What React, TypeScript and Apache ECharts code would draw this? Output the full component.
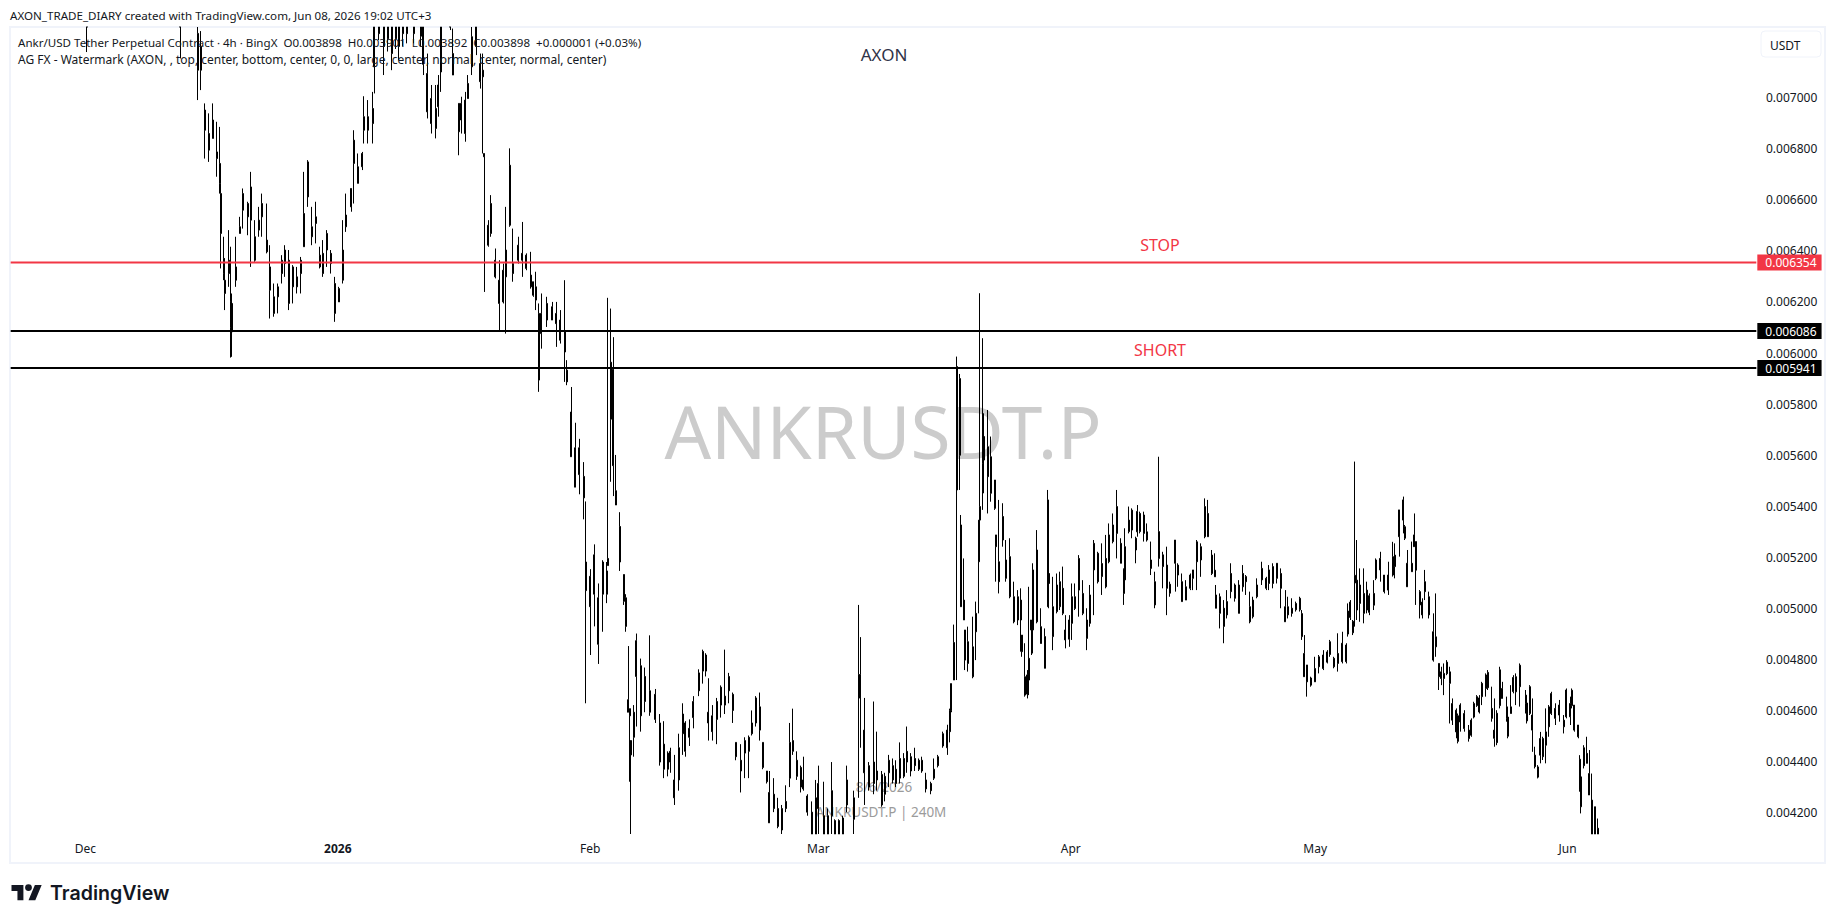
import React, { useEffect, useRef } from "react";
import * as echarts from "echarts";

// Prices in millionths of USDT; rows: [4h slot, open, high, low, close]
const barsDec = [[56,7300,7400,7178,7350],[125,7300,7400,7153,7350],[138,7107,7400,6990,7251],[140,7107,7260,7029,7200],[143,6872,6977,6761,6951],[146,6794,6938,6748,6859],[149,6840,6977,6840,6912],[152,6761,6905,6690,6787],[154,6664,6885,6624,6742],[155,6468,6664,6331,6624],[157,6311,6455,6285,6370],[158,6233,6370,6168,6285],[161,6311,6481,6259,6363],[162,6100,6416,5982,6200],[163,6083,6233,5985,6194],[166,6285,6455,6259,6337],[169,6468,6533,6468,6494],[171,6559,6644,6487,6624],[175,6533,6592,6461,6585],[177,6520,6709,6337,6650],[180,6363,6520,6357,6455],[183,6481,6572,6455,6520],[185,6533,6624,6455,6585],[189,6396,6585,6390,6442],[191,6246,6422,6135,6337],[194,6155,6272,6142,6220],[197,6220,6272,6155,6259],[200,6311,6383,6272,6363],[202,6350,6422,6298,6403],[205,6194,6403,6168,6363],[208,6259,6344,6194,6337],[211,6259,6337,6233,6298],[214,6311,6376,6233,6363],[216,6416,6709,6416,6546],[219,6611,6755,6572,6748],[222,6455,6572,6422,6494],[225,6507,6592,6429,6533],[228,6337,6416,6331,6383],[230,6311,6442,6298,6390],[233,6403,6481,6337,6468],[236,6350,6403,6311,6390],[239,6155,6298,6122,6272]];
const barsJan = [[242,6200,6259,6200,6252],[245,6285,6520,6272,6403],[247,6494,6624,6474,6540],[251,6572,6644,6553,6644],[253,6742,6872,6585,6833],[256,6664,6781,6664,6729],[259,6729,6787,6716,6781],[260,6872,7005,6820,6925],[263,6872,6990,6820,6925],[267,6898,7022,6820,6957],[268,7120,7400,7016,7277],[271,7250,7400,7225,7300],[275,7200,7400,7088,7300],[278,7230,7400,7180,7300],[281,7172,7400,7107,7277],[284,7230,7400,7190,7300],[286,7200,7400,7146,7300],[289,7250,7400,7200,7320],[292,7250,7400,7212,7320],[297,7250,7400,7212,7320],[302,7240,7400,7199,7320],[304,7130,7400,7088,7277],[307,6944,7172,6918,7094],[310,6898,7049,6859,6996],[313,6879,7049,6840,6957],[315,6964,7088,6925,7049],[317,7100,7400,7022,7277],[324,7300,7400,7264,7350],[326,7088,7270,7088,7172],[330,6866,6977,6774,6977],[332,6912,7003,6859,6977],[335,6859,7022,6827,6990],[337,6996,7088,6996,7055],[340,7120,7400,7088,7238],[343,7200,7400,7166,7277],[346,7062,7172,7035,7133],[348,7081,7172,6781,7107],[349,6768,6781,6239,6781],[352,6422,6520,6416,6500],[354,6468,6618,6455,6585],[357,6298,6409,6292,6363],[360,6194,6363,6089,6285],[363,6200,6350,6194,6324],[365,6298,6572,6076,6403],[368,6500,6801,6494,6735],[370,6311,6487,6279,6350],[374,6363,6455,6350,6422],[377,6363,6513,6298,6390],[380,6331,6390,6324,6383],[383,6259,6396,6252,6305],[385,6226,6279,6220,6279],[387,6207,6318,6168,6259],[389,5894,6194,5848,6155],[391,6076,6233,6017,6155],[395,6129,6220,6102,6194],[399,6129,6200,6129,6181],[402,6115,6200,6024,6155],[405,6050,6168,6037,6129],[408,6004,6285,5887,6083],[410,5887,5972,5874,5933],[413,5594,5867,5594,5769],[416,5475,5727,5475,5629],[419,5524,5664,5447,5629],[422,5433,5573,5349,5517],[424,5070,5419,4629,5182]];
const barsFeb = [[427,5007,5154,4818,5126],[430,5056,5251,4930,5210],[433,4860,5098,4783,5042],[436,5056,5189,4909,5182],[439,5056,5182,5021,5147],[440,5168,6216,5168,5196],[442,5741,6174,5496,5964],[444,5559,6062,5440,5936],[446,5405,5601,5405,5461],[449,5182,5377,5147,5321],[452,5028,5133,5014,5133],[453,4930,5056,4909,5042],[455,4594,4853,4594,4643],[456,4580,4608,4322,4608],[457,4427,4469,4100,4483],[459,4496,4622,4420,4594],[461,4734,4902,4538,4874],[464,4580,4804,4518,4776],[467,4636,4769,4594,4734],[471,4594,4895,4580,4678],[475,4566,4685,4552,4664],[478,4399,4587,4385,4552],[481,4371,4559,4336,4469],[484,4371,4441,4343,4434],[486,4399,4455,4357,4441],[489,4259,4427,4231,4329],[492,4329,4510,4287,4455],[495,4510,4629,4427,4587],[497,4441,4559,4420,4552],[500,4496,4566,4462,4531],[503,4573,4657,4531,4636],[507,4678,4762,4657,4748],[510,4755,4839,4706,4832],[512,4755,4825,4734,4818],[514,4552,4727,4483,4594],[517,4518,4622,4483,4580],[520,4566,4650,4469,4636],[523,4622,4699,4573,4692],[526,4622,4839,4587,4657],[529,4678,4748,4629,4734],[532,4601,4671,4552,4664],[534,4420,4476,4406,4476],[538,4364,4469,4280,4406],[541,4434,4496,4336,4483],[544,4441,4503,4336,4496],[546,4510,4601,4503,4552],[549,4552,4657,4538,4650],[552,4524,4671,4483,4615],[554,4378,4476,4371,4476],[557,4322,4364,4315,4364],[559,4161,4364,4161,4280],[562,4217,4336,4203,4273],[565,4147,4259,4140,4217],[568,4133,4231,4100,4217],[571,4217,4308,4203,4245],[574,4336,4552,4301,4476],[576,4441,4608,4427,4483],[579,4343,4441,4329,4406],[582,4301,4385,4280,4378],[584,4294,4420,4287,4329],[587,4203,4273,4189,4266],[590,4116,4245,4100,4203],[593,4116,4329,4100,4259]];
const barsMar = [[595,4217,4385,4100,4315],[599,4116,4322,4100,4189],[602,4116,4217,4100,4189],[605,4189,4399,4100,4287],[607,4116,4175,4100,4170],[610,4116,4175,4100,4170],[613,4116,4189,4100,4180],[616,4231,4385,4203,4329],[621,4175,4287,4100,4259],[625,4650,5014,4259,4741],[626,4650,4888,4455,4741],[629,4357,4650,4231,4524],[632,4301,4399,4287,4385],[636,4315,4636,4273,4399],[638,4329,4518,4287,4364],[642,4231,4364,4224,4350],[644,4273,4357,4245,4343],[647,4357,4427,4301,4406],[650,4329,4413,4315,4385],[652,4315,4406,4301,4371],[655,4336,4476,4315,4413],[658,4343,4434,4336,4413],[660,4399,4538,4357,4441],[663,4364,4434,4343,4420],[666,4385,4455,4364,4413],[669,4371,4413,4364,4406],[671,4364,4420,4357,4406],[674,4294,4357,4280,4329],[678,4287,4322,4273,4315],[680,4336,4413,4329,4371],[683,4385,4427,4378,4420],[687,4462,4518,4455,4510],[690,4455,4545,4427,4524],[692,4518,4608,4476,4601],[693,4601,4706,4594,4706],[695,4720,4937,4720,4867],[697,5464,5986,4720,5947],[699,5600,5918,5464,5900],[700,5007,5366,5007,5327],[702,4955,5196,4955,5033],[703,4798,4916,4759,4916],[705,4785,4929,4753,4870],[709,4733,4968,4727,4850],[711,4909,5027,4798,4981],[713,5183,5346,4981,5346],[714,5346,6234,5346,5399],[716,5568,6058,5386,5679],[717,5581,5764,5451,5673],[720,5516,5777,5372,5633],[722,5451,5673,5418,5594],[725,5392,5503,5386,5503],[726,5242,5288,5105,5288],[728,5105,5425,5059,5183],[731,5268,5412,5242,5360],[733,5118,5268,5105,5190],[736,5046,5275,5040,5203],[739,4948,5105,4942,5046],[742,4955,5072,4935,5046],[744,4955,5079,4831,5033],[745,4831,4896,4811,4896],[747,4661,4864,4655,4733],[749,4665,4759,4648,4740],[750,4720,5085,4661,4805],[752,4916,4955,4818,4955],[753,4916,5177,4824,5151],[756,4948,5307,4942,5229],[759,4863,5001,4863,4929],[762,4766,4922,4766,4890],[764,5007,5464,5007,5425],[765,5098,5137,5001,5137],[768,4890,5124,4837,5007],[771,4988,5137,4981,5092],[773,5007,5144,4994,5105],[775,4981,5164,4974,5079],[777,4877,4974,4844,4916],[780,4880,4974,4850,4955]];
const barsApr = [[782,4942,5098,4877,5046],[784,5000,5098,4994,5046],[787,5072,5209,4968,5196],[790,4981,5111,4974,5059],[793,4883,5001,4837,4955],[795,4942,5092,4929,5053],[798,5151,5268,4974,5255],[801,5105,5222,5098,5216],[804,5125,5255,5053,5176],[807,5085,5288,5079,5196],[809,5183,5333,5177,5288],[812,5262,5372,5255,5327],[815,5294,5464,5196,5399],[818,5177,5275,5177,5255],[820,5059,5157,5014,5151],[821,5112,5314,5105,5242],[824,5301,5399,5294,5346],[826,5307,5392,5275,5385],[829,5229,5281,5177,5275],[830,5300,5405,5281,5380],[832,5301,5379,5294,5372],[835,5294,5379,5262,5366],[837,5268,5333,5262,5300],[840,5157,5262,5131,5190],[843,5014,5144,5001,5105],[846,5196,5594,5164,5301],[849,5164,5222,5079,5210],[852,5079,5242,4974,5170],[854,5060,5105,5046,5095],[858,5177,5268,5066,5268],[860,5131,5177,5085,5170],[863,5027,5137,5027,5105],[866,5033,5111,5033,5085],[869,5079,5137,5072,5131],[871,5118,5151,5072,5151],[874,5183,5268,5072,5261],[877,5190,5255,5124,5242],[880,5281,5431,5275,5399],[882,5281,5425,5281,5372],[885,5137,5229,5131,5209],[887,5124,5216,5124,5150],[888,5001,5092,5001,5053],[891,4981,5059,4922,5046],[894,4930,5033,4864,5001],[896,4975,5072,4961,5027],[899,5066,5177,5040,5137],[902,5040,5098,5027,5092],[905,4981,5111,4981,5092],[908,5085,5170,5066,5137],[910,5105,5131,5053,5125],[913,4948,5066,4942,5007],[915,4968,5046,4961,5033],[918,5046,5118,5040,5092],[922,5112,5183,5092,5157],[925,5079,5124,5072,5118],[927,5098,5170,5072,5151],[930,5098,5177,5079,5164],[933,5118,5177,5098,5177],[936,5079,5157,5001,5137],[939,4948,5072,4948,5007],[941,4975,5046,4961,5007],[944,4981,5040,4968,5001],[947,4995,5027,4988,5020],[950,4995,5046,4988,5040],[951,4890,4994,4877,4980],[953,4733,4896,4733,4824],[955,4713,4779,4655,4779],[958,4700,4733,4694,4728]];
const barsMay = [[961,4713,4811,4713,4765],[964,4772,4818,4746,4811],[967,4765,4837,4759,4818],[970,4790,4837,4785,4830],[972,4820,4877,4811,4870],[975,4772,4811,4766,4805],[978,4785,4903,4753,4824],[981,4792,4909,4785,4864],[984,4792,4864,4785,4857],[985,4900,5020,4890,4990],[987,4965,5033,4955,5025],[989,4905,4955,4896,4950],[990,5100,5575,4929,5130],[992,4994,5268,4955,5111],[994,5020,5157,4948,5092],[997,4981,5157,4942,5059],[999,4994,5105,4981,5072],[1001,4985,5059,4974,5050],[1004,5013,5111,4994,5059],[1006,5118,5196,5111,5190],[1009,5151,5222,5105,5196],[1012,5066,5131,5059,5131],[1015,5072,5183,5053,5131],[1018,5131,5261,5125,5203],[1020,5164,5255,5118,5209],[1023,5281,5386,5203,5386],[1026,5346,5438,5294,5425],[1027,5275,5327,5268,5320],[1029,5085,5229,5085,5177],[1032,5144,5262,5144,5177],[1034,5242,5372,5242,5288],[1035,5150,5262,5014,5262],[1038,5014,5072,4961,5066],[1040,4975,5040,4961,5025],[1042,5066,5151,5033,5105],[1045,4975,5066,4961,5046],[1048,4798,4981,4792,4909],[1050,4850,5059,4811,4889],[1052,4733,4785,4681,4785],[1054,4726,4772,4700,4752],[1056,4726,4785,4661,4746],[1058,4745,4798,4739,4790],[1060,4707,4772,4550,4752],[1062,4563,4648,4544,4628],[1065,4517,4609,4492,4602],[1066,4480,4589,4472,4580],[1068,4556,4629,4518,4622],[1071,4530,4602,4518,4589],[1074,4491,4544,4479,4524],[1076,4504,4570,4498,4563],[1078,4575,4635,4570,4628],[1080,4620,4661,4615,4655],[1082,4595,4661,4589,4650],[1084,4655,4713,4622,4707],[1087,4687,4746,4655,4740],[1088,4690,4759,4681,4750],[1091,4570,4694,4557,4609],[1093,4492,4648,4459,4524],[1095,4475,4602,4465,4590],[1097,4620,4772,4609,4760],[1099,4648,4713,4648,4687],[1102,4570,4655,4557,4615],[1103,4500,4583,4492,4575],[1105,4589,4700,4589,4615],[1107,4675,4739,4668,4730],[1109,4674,4746,4622,4733],[1112,4694,4785,4616,4778],[1116,4628,4681,4589,4661],[1117,4560,4641,4550,4630],[1119,4589,4700,4583,4694],[1121,4524,4648,4439,4583],[1123,4381,4459,4374,4426],[1125,4340,4387,4335,4380],[1127,4426,4517,4394,4491],[1129,4420,4498,4407,4491],[1131,4465,4609,4394,4517],[1133,4537,4622,4498,4615],[1135,4589,4674,4583,4667],[1138,4570,4629,4544,4609],[1141,4583,4642,4557,4622],[1144,4537,4583,4511,4563],[1146,4576,4687,4570,4681]];
const barsJun = [[1149,4576,4655,4544,4628],[1150,4620,4687,4609,4680],[1152,4524,4622,4518,4622],[1155,4498,4544,4492,4544],[1156,4290,4426,4283,4410],[1157,4224,4400,4198,4341],[1159,4385,4465,4374,4455],[1161,4394,4498,4394,4433],[1163,4270,4446,4270,4354],[1165,4117,4354,4090,4250],[1167,4117,4224,4090,4224],[1169,4117,4178,4090,4140]];

const barGroups = [barsDec, barsJan, barsFeb, barsMar, barsApr, barsMay, barsJun];

const slotCount = 1287;
const dec1Slot = 55;
const axisMin = 0.0041174;
const axisMax = 0.007276;
const tickLabels: Record<string, string> = {
  "2025-12-01T00": "Dec",
  "2026-01-01T00": "{b|2026}",
  "2026-02-01T00": "Feb",
  "2026-03-01T00": "Mar",
  "2026-04-01T00": "Apr",
  "2026-05-01T00": "May",
  "2026-06-01T00": "Jun",
};
const priceTicks = [0.0042, 0.0044, 0.0046, 0.0048, 0.005, 0.0052, 0.0054, 0.0056, 0.0058, 0.006, 0.0062, 0.0064, 0.0066, 0.0068, 0.007];
const levels = [
  { value: 0.006354, text: "0.006354", color: "#f23645" },
  { value: 0.006086, text: "0.006086", color: "#000000" },
  { value: 0.005941, text: "0.005941", color: "#000000" },
];

const categories: string[] = [];
for (let i = 0; i < slotCount; i++) {
  categories.push(new Date(Date.UTC(2025, 11, 1) + (i - dec1Slot) * 4 * 3600 * 1000).toISOString().slice(0, 13));
}

const FONT = "'Noto Sans', sans-serif";

const LOGO_D = "M14 22H7V11H0V4h14v18zM28 22h-8l7.5-18h8L28 22z M24 7a4 4 0 1 1-8 0a4 4 0 1 1 8 0z";
echarts.graphic.registerShape("tvMark", echarts.graphic.extendPath(LOGO_D as any, {}) as any);

export default function App() {
  const ref = useRef<HTMLDivElement>(null);
  useEffect(() => {
    if (!ref.current) return;
    const chart = echarts.init(ref.current, undefined, { renderer: "svg" });
    const data: any[] = categories.map(() => ["-", "-", "-", "-"]);
    // The price pane cuts wicks off at its edges, as the reference does.
    const inPane = (v: number) => Math.min(axisMax, Math.max(axisMin, v / 1e6));
    barGroups.forEach((g) =>
      g.forEach(([s, o, h, l, c]) => {
        data[s] = [inPane(o), inPane(c), inPane(l), inPane(h)];
      })
    );
    const txt = (x: number, y: number, text: string, fill: string, fontSize: number, extra: any = {}, z = 10) => ({
      type: "text",
      z,
      x,
      y,
      silent: true,
      style: { text, fill, fontSize, fontFamily: FONT, textVerticalAlign: "middle", verticalAlign: "middle", ...extra },
    });
    chart.setOption({
      animation: false,
      backgroundColor: "#ffffff",
      grid: { left: 10, top: 27, width: 1747, height: 807, containLabel: false, show: false },
      xAxis: {
        type: "category",
        data: categories,
        boundaryGap: true,
        axisLine: { show: false },
        axisTick: { show: false },
        splitLine: { show: false },
        axisLabel: {
          interval: (_: number, v: string) => v in tickLabels,
          formatter: (v: string) => tickLabels[v] || "",
          color: "#131722",
          fontSize: 12,
          fontFamily: FONT,
          margin: 8,
          hideOverlap: false,
          rich: { b: { fontWeight: "bold", fontSize: 12, color: "#131722", fontFamily: FONT } },
        },
      },
      yAxis: {
        type: "value",
        position: "right",
        min: axisMin,
        max: axisMax,
        scale: true,
        axisLine: { show: false },
        axisTick: { show: false },
        splitLine: { show: false },
        axisLabel: {
          customValues: priceTicks,
          formatter: (v: number) => v.toFixed(6),
          color: "#131722",
          fontSize: 12,
          fontFamily: FONT,
          margin: 9,
        },
      },
      series: [
        {
          type: "candlestick",
          data,
          large: false,
          progressive: 0,
          barWidth: 1.5,
          clip: false,
          itemStyle: { color: "#000", color0: "#000", borderColor: "#000", borderColor0: "#000", borderWidth: 1 },
        },
        ...levels.map((lv) => ({
          type: "line",
          z: 5,
          symbol: "none",
          silent: true,
          clip: false,
          data: [
            [categories[0], lv.value],
            [categories[slotCount - 1], lv.value],
          ],
          lineStyle: { color: lv.color, width: 2, type: "solid" },
          endLabel: {
            show: true,
            distance: 1,
            formatter: () => lv.text,
            color: "#ffffff",
            backgroundColor: lv.color,
            fontSize: 12,
            fontFamily: FONT,
            padding: [2, 5, 2, 8],
          },
        })),
      ],
      graphic: {
        elements: [
          txt(883, 430, "ANKRUSDT.P", "#cccccc", 73, { textAlign: "center", align: "center" }, 0),
          txt(884, 787, "8/6/2026", "#9b9b9b", 13.5, { textAlign: "center", align: "center" }, 0),
          txt(881, 812, "ANKRUSDT.P | 240M", "#9b9b9b", 13.5, { textAlign: "center", align: "center" }, 0),
          {
            type: "rect",
            z: 1,
            silent: true,
            shape: { x: 10, y: 27, width: 1815, height: 836 },
            style: { fill: "none", stroke: "#f0f3fa", lineWidth: 2 },
          },
          txt(10, 15, "AXON_TRADE_DIARY created with TradingView.com, Jun 08, 2026 19:02 UTC+3", "#131722", 11.6),
          txt(18, 42, "Ankr/USD Tether Perpetual Contract · 4h · BingX  O0.003898  H0.003901  L0.003892  C0.003898  +0.000001 (+0.03%)", "#131722", 11.57),
          txt(18, 59, "AG FX - Watermark (AXON, , top, center, bottom, center, 0, 0, large, center, normal, center, normal, center)", "#131722", 12),
          txt(884, 54, "AXON", "#2f3347", 17, { textAlign: "center", align: "center" }),
          txt(1160, 245, "STOP", "#f23645", 16, { textAlign: "center", align: "center" }),
          txt(1160, 350, "SHORT", "#f23645", 16, { textAlign: "center", align: "center" }),
          {
            type: "rect",
            z: 11,
            silent: true,
            shape: { x: 1761, y: 31, width: 60, height: 26, r: 4 },
            style: { fill: "#ffffff", stroke: "#f0f3fa", lineWidth: 1 },
          },
          txt(1770, 45, "USDT", "#131722", 12, {}, 12),
          { type: "tvMark", z: 10, silent: true, x: 11.5, y: 881.6, scaleX: 0.85, scaleY: 0.85, style: { fill: "#131722" } },
          txt(50, 893, "TradingView", "#131722", 19.6, { fontFamily: "Inter, sans-serif", fontWeight: 600 }),
        ],
      },
    });
    return () => chart.dispose();
  }, []);
  return <div ref={ref} style={{ position: "fixed", left: 0, top: 0, width: 1835, height: 923 }} />;
}
